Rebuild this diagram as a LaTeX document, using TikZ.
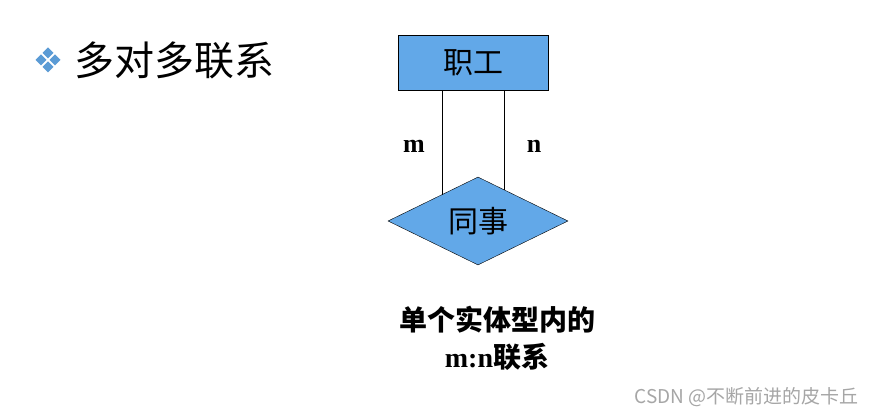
\documentclass[tikz,border=0pt]{standalone}
\usepackage{fontspec}
\setmainfont{Liberation Serif}
\newfontfamily\cjk{Noto Sans CJK SC}
\usetikzlibrary{shapes.geometric}
\definecolor{boxblue}{HTML}{62A8E8}
\definecolor{bul}{HTML}{5B9BD5}
\tikzset{ent/.style={draw=black,fill=boxblue,minimum width=150pt,minimum height=55pt,inner sep=0pt},
 rel/.style={draw=black,fill=boxblue,diamond,aspect=2.05,minimum width=180pt,minimum height=88pt,inner sep=0pt},
 lab/.style={font=\fontsize{26}{26}\selectfont\bfseries}}
\begin{document}
\begin{tikzpicture}[x=1pt,y=-1pt]
\useasboundingbox[fill=white] (0,0) rectangle (870,419);
\node[ent] (e) at (473,62.5) {\cjk\fontsize{30}{30}\selectfont 职工};
\node[rel] (r) at (478,221) {\cjk\fontsize{30}{30}\selectfont 同事};
\coordinate (l1) at (442,194.6);
\coordinate (l2) at (504,189.7);
\draw (e.south -| l1) -- (l1);
\draw (e.south -| l2) -- (l2);
\node[lab] (m) at (414,146) {m};
\node[lab] (n) at (534,146) {n};
\node[anchor=west,inner sep=0pt] (t) at (74,60) {\cjk\fontsize{40}{40}\selectfont 多对多联系};
\foreach \dx/\dy in {0/-7,0/7,-7/0,7/0}
  \fill[bul] (48+\dx,60+\dy-5.5) -- ++(5.5,5.5) -- ++(-5.5,5.5) -- ++(-5.5,-5.5) -- cycle;
\node (c1) at (497,320) {\cjk\fontsize{28}{28}\selectfont\bfseries 单个实体型内的};
\node (c2) at (497,357) {\fontsize{28}{28}\selectfont\bfseries m:n\cjk 联系};
\node[text=gray!70,anchor=east] (w) at (862,397) {\cjk\fontsize{19}{19}\selectfont CSDN @不断前进的皮卡丘};
\end{tikzpicture}
\end{document}
